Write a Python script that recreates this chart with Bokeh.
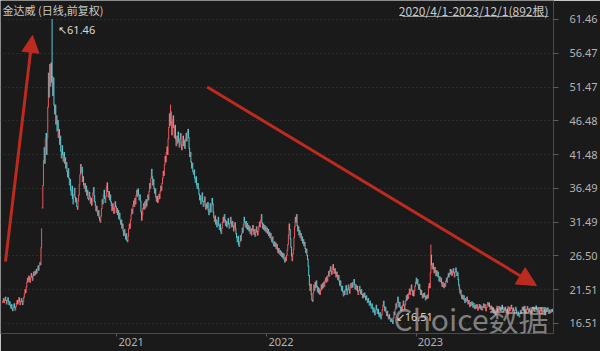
from bokeh.plotting import figure
from bokeh.models import (Range1d, FixedTicker, PrintfTickFormatter, Label,
                          Arrow, NormalHead, ColumnDataSource)
from bokeh.embed import file_html
from bokeh.resources import INLINE

# ---------------- data (daily closes) ----------------
closes = [
    19.8, 20.2, 19.6, 20.0, 20.4, 19.9, 19.4, 19.9, 20.3, 19.8, 19.3, 19.7, 19.2, 18.8, 19.3, 18.7, 18.4, 18.9, 19.4, 18.9,
    18.5, 19.0, 19.5, 19.9, 19.4, 19.8, 20.3, 19.8, 19.3, 19.8, 20.2, 19.7, 19.3, 19.8, 20.4, 20.9, 21.5, 21.1, 21.9, 22.6,
    23.2, 22.7, 23.5, 23.0, 22.6, 23.3, 23.9, 23.4, 22.9, 23.6, 24.1, 23.6, 24.2, 23.8, 24.5, 24.0, 24.6, 25.0, 24.4, 25.1,
    25.5, 25.2, 27.7, 30.5, 33.6, 36.9, 40.6, 42.5, 40.2, 43.8, 44.6, 41.5, 44.0, 48.5, 53.5, 50.0, 54.8, 51.6, 55.0, 52.2,
    53.0, 50.2, 52.8, 48.8, 47.5, 48.8, 46.0, 47.2, 45.0, 46.5, 44.0, 45.2, 43.0, 44.2, 42.0, 41.0, 42.8, 41.5, 40.5, 41.8,
    40.2, 41.0, 39.5, 40.3, 39.0, 38.2, 39.4, 38.0, 37.0, 37.8, 36.2, 35.5, 36.8, 35.0, 34.2, 35.6, 36.5, 35.2, 34.5, 35.0,
    33.8, 33.4, 34.6, 35.5, 37.0, 38.5, 40.0, 38.8, 39.6, 37.5, 38.2, 37.0, 36.5, 37.2, 36.0, 36.8, 35.5, 36.2, 35.0, 34.8,
    35.9, 35.2, 34.3, 35.0, 34.0, 34.6, 35.8, 36.6, 35.4, 34.5, 34.0, 33.2, 33.8, 33.0, 32.5, 33.2, 32.2, 31.8, 31.5, 32.4,
    33.5, 34.8, 34.2, 35.5, 36.2, 35.0, 34.4, 35.3, 36.8, 37.3, 36.0, 35.2, 36.0, 34.8, 35.5, 34.5, 34.0, 33.2, 34.2, 33.5,
    32.8, 33.6, 34.5, 33.8, 32.9, 33.5, 32.6, 33.2, 32.0, 32.8, 31.8, 31.2, 31.8, 30.6, 31.2, 30.2, 29.5, 30.4, 29.6, 29.0,
    29.8, 28.8, 28.6, 29.4, 30.5, 31.2, 30.6, 31.8, 32.6, 33.4, 32.8, 34.0, 34.6, 33.8, 35.0, 34.2, 35.4, 36.2, 35.3, 36.4,
    35.6, 34.8, 35.5, 34.6, 33.0, 31.8, 32.6, 33.5, 34.2, 33.4, 34.5, 33.6, 34.8, 33.9, 34.6, 35.5, 34.8, 36.0, 37.2, 36.5,
    38.0, 39.3, 38.2, 37.0, 37.8, 36.5, 35.8, 36.4, 35.2, 34.6, 35.3, 34.4, 34.8, 35.6, 35.0, 36.0, 36.8, 36.2, 37.2, 38.0,
    39.0, 38.4, 40.0, 41.2, 40.4, 41.8, 42.6, 41.5, 43.8, 45.5, 47.5, 45.8, 47.8, 46.2, 44.4, 46.6, 47.2, 45.5, 44.0, 45.8,
    43.8, 42.8, 44.2, 43.2, 44.8, 43.5, 42.6, 43.8, 44.6, 43.0, 42.2, 43.4, 44.2, 42.8, 43.6, 42.4, 43.8, 44.6, 43.5, 44.8,
    45.2, 44.0, 42.4, 41.2, 41.8, 40.4, 39.5, 40.2, 39.0, 38.6, 39.2, 38.0, 37.4, 38.2, 37.0, 36.5, 37.2, 36.4, 35.6, 34.8,
    35.4, 34.2, 35.0, 35.8, 34.6, 33.8, 34.5, 35.2, 34.0, 33.4, 34.2, 33.6, 34.4, 33.2, 32.6, 33.4, 34.2, 33.0, 34.0, 35.0,
    34.2, 33.0, 32.2, 31.6, 32.4, 31.2, 31.8, 30.8, 31.5, 32.2, 31.0, 30.4, 31.2, 30.2, 29.8, 30.6, 31.4, 32.2, 31.5, 32.6,
    31.8, 31.0, 31.6, 30.8, 31.4, 32.0, 31.2, 30.6, 31.3, 32.2, 31.5, 30.8, 31.6, 30.9, 30.2, 30.8, 31.4, 30.5, 29.8, 29.2,
    28.6, 29.4, 28.2, 27.9, 28.6, 29.5, 28.8, 29.8, 30.6, 30.0, 31.2, 32.2, 31.5, 30.8, 31.6, 30.6, 31.3, 30.4, 31.0, 30.2,
    30.8, 29.8, 30.5, 29.6, 30.2, 31.0, 30.3, 29.7, 30.4, 29.4, 30.0, 30.8, 30.1, 29.6, 30.2, 30.9, 31.5, 30.8, 31.8, 32.6,
    31.4, 30.6, 31.2, 30.4, 31.0, 30.2, 30.8, 30.0, 30.6, 29.8, 30.4, 29.5, 30.0, 29.2, 29.8, 29.0, 28.6, 29.3, 28.4, 28.0,
    28.6, 27.9, 28.4, 27.6, 28.2, 27.4, 27.0, 27.6, 26.8, 27.3, 26.6, 27.1, 26.4, 26.9, 26.2, 26.8, 26.0, 25.6, 26.3, 25.8,
    26.6, 27.4, 28.2, 29.6, 31.2, 30.4, 29.0, 27.8, 26.5, 25.8, 26.8, 27.5, 29.2, 30.8, 32.2, 31.5, 32.6, 31.0, 30.2, 30.8,
    29.6, 30.2, 29.2, 29.8, 28.8, 29.3, 28.4, 28.9, 28.0, 28.5, 27.6, 27.0, 27.5, 26.6, 26.0, 25.0, 23.6, 22.2, 21.4, 22.3,
    20.8, 20.0, 19.8, 21.0, 22.2, 21.4, 22.6, 21.8, 22.8, 22.0, 21.2, 21.8, 21.0, 21.6, 20.8, 21.4, 22.2, 21.6, 22.4, 21.8,
    22.6, 22.0, 22.8, 23.2, 22.6, 23.4, 22.8, 23.6, 24.2, 23.5, 24.4, 24.9, 24.2, 23.8, 24.6, 25.2, 24.5, 23.9, 24.6, 24.0,
    23.4, 24.1, 23.6, 23.0, 23.6, 22.8, 22.2, 22.8, 22.0, 21.4, 22.0, 21.2, 20.6, 21.3, 20.8, 21.5, 22.1, 21.4, 20.8, 21.6,
    22.2, 21.5, 21.0, 21.8, 22.4, 21.8, 22.5, 21.9, 22.6, 23.0, 22.3, 21.6, 22.2, 21.5, 22.0, 21.3, 20.8, 21.4, 22.0, 21.4,
    20.9, 21.5, 20.8, 20.3, 20.9, 20.4, 21.0, 20.5, 20.0, 20.6, 20.1, 19.6, 20.2, 19.7, 19.2, 19.8, 19.3, 18.8, 19.4, 18.7,
    18.2, 18.8, 18.3, 17.8, 18.5, 19.2, 18.6, 18.0, 18.6, 17.9, 17.5, 18.1, 17.6, 17.2, 17.8, 18.5, 19.2, 19.8, 19.0, 18.4,
    18.9, 18.2, 17.7, 18.3, 17.6, 17.2, 17.8, 17.3, 17.0, 16.8, 17.2, 16.9, 16.51, 17.4, 18.2, 17.8, 18.6, 19.4, 18.8, 19.6,
    20.4, 19.7, 19.0, 19.6, 18.9, 18.4, 19.0, 18.5, 19.2, 19.8, 19.2, 18.6, 19.3, 19.9, 20.6, 20.0, 20.8, 20.2, 21.0, 21.6,
    20.8, 21.5, 22.2, 21.4, 20.7, 21.3, 20.6, 21.4, 22.0, 22.6, 23.2, 22.4, 23.0, 22.2, 21.6, 22.3, 21.5, 20.8, 21.4, 20.8,
    20.3, 20.9, 20.4, 21.0, 20.5, 20.0, 20.6, 20.2, 20.7, 20.3, 22.0, 22.4, 21.8, 24.0, 26.6, 25.2, 24.6, 25.4, 24.6, 24.0,
    24.8, 24.2, 23.6, 24.3, 23.5, 24.1, 23.4, 22.8, 23.4, 22.7, 23.2, 22.5, 22.0, 22.6, 22.0, 21.8, 22.4, 22.0, 22.8, 23.2,
    22.6, 23.4, 23.9, 23.4, 24.0, 24.5, 23.8, 24.4, 23.6, 24.2, 24.6, 24.0, 23.4, 24.1, 24.7, 24.2, 23.6, 24.0, 23.0, 22.2,
    21.6, 21.0, 21.4, 20.6, 20.2, 20.7, 20.1, 20.6, 20.0, 19.6, 20.2, 19.8, 20.4, 19.9, 19.4, 19.9, 19.5, 19.0, 19.6, 19.2,
    19.7, 19.3, 18.9, 19.5, 19.1, 18.7, 19.2, 18.8, 19.3, 18.9, 18.5, 18.9, 19.3, 18.8, 19.2, 18.6, 19.0, 18.5, 18.9, 19.4,
    18.9, 19.3, 18.8, 18.4, 18.9, 19.3, 19.6, 19.1, 19.5, 19.0, 18.6, 19.1, 18.7, 18.3, 18.8, 18.4, 18.0, 18.5, 18.1, 17.8,
    18.3, 18.7, 18.2, 18.6, 19.0, 18.5, 18.9, 18.4, 18.8, 19.2, 18.7, 18.3, 18.8, 18.4, 18.9, 18.5, 18.1, 18.6, 18.2, 17.8,
    18.3, 18.8, 18.4, 18.9, 19.2, 18.7, 18.3, 18.8, 18.4, 18.0, 18.5, 18.9, 18.5, 18.1, 17.7, 18.2, 17.8, 17.5, 18.0, 18.4,
    18.0, 18.5, 18.9, 18.5, 18.9, 18.4, 18.0, 18.5, 18.1, 18.6, 19.0, 18.6, 18.2, 18.7, 18.3, 17.9, 18.4, 18.0, 18.5, 18.9,
    18.4, 18.8, 18.3, 18.7, 19.1, 18.6, 18.2, 18.6, 18.1, 18.5, 18.0, 18.4, 18.8, 18.4, 18.0, 18.5, 18.2, 18.6, 18.2, 17.8,
    18.3, 18.7, 18.3, 18.8, 18.4, 18.0, 18.5, 18.1, 18.5, 18.2, 18.6, 18.3,
]
first_open = 19.6
open_overrides = {64: 33.6, 80: 55.4}          # gap opens (one-price limit-up, peak day)
high_overrides = {80: 61.46, 272: 48.8, 694: 28.1}  # visible long upper wicks

year_ticks = [185, 428, 670]
year_labels = ["2021", "2022", "2023"]
y_ticks = [16.51, 21.51, 26.50, 31.49, 36.49, 41.48, 46.48, 51.47, 56.47, 61.46]

title_text = "金达威 (日线,前复权)"
range_text = "2020/4/1-2023/12/1(892根)"

# ---------------- derived OHLC ----------------
n = len(closes)
opens = [first_open] + closes[:-1]
for k, v in open_overrides.items():
    opens[k] = v
highs = [max(o, c) for o, c in zip(opens, closes)]
lows = [min(o, c) for o, c in zip(opens, closes)]
for k, v in high_overrides.items():
    highs[k] = v

UP = "#ec5860"
DOWN = "#55cdd4"
colors = [UP if c >= o else DOWN for o, c in zip(opens, closes)]

src = ColumnDataSource(dict(x=list(range(n)), o=opens, h=highs, l=lows, c=closes, color=colors))

BG = "#1a1a1a"
ARROW = "#bd2a1f"
TXT = "#c8c8c8"

p = figure(width=600, height=351, x_range=Range1d(-3.6, 892.7), y_range=Range1d(15.03, 64.26),
           y_axis_location="right", toolbar_location=None, output_backend="svg",
           background_fill_color=BG, border_fill_color=BG, outline_line_color=None,
           min_border_left=0, min_border_top=0, min_border_right=47, min_border_bottom=14)

p.segment(x0="x", y0="l", x1="x", y1="h", color="color", line_width=1, line_cap="square", source=src)

# axes
ya = p.yaxis[0]
ya.ticker = FixedTicker(ticks=y_ticks)
ya.formatter = PrintfTickFormatter(format="%.2f")
ya.major_label_text_color = "#b4b4b4"
ya.major_label_text_font = "Noto Sans"
ya.major_label_text_font_size = "11px"
ya.axis_line_color = "#4a4a4a"
ya.major_tick_line_color = "#5a5a5a"
ya.major_tick_out = 5
ya.major_tick_in = 0
ya.minor_tick_out = 0
ya.minor_tick_in = 0
ya.major_label_standoff = 11

xa = p.xaxis[0]
xa.ticker = FixedTicker(ticks=year_ticks)
xa.major_label_overrides = {t: "\u00a0" * 10 + lab for t, lab in zip(year_ticks, year_labels)}
xa.major_label_text_color = "#b4b4b4"
xa.major_label_text_font = "Noto Sans"
xa.major_label_text_font_size = "11px"
xa.axis_line_color = "#4a4a4a"
xa.major_tick_line_color = "#5a5a5a"
xa.major_tick_out = 3
xa.major_tick_in = 0
xa.minor_tick_out = 0
xa.minor_tick_in = 0
xa.major_label_standoff = -3

p.xgrid.visible = False
p.ygrid.grid_line_color = "#3c3c3c"
p.ygrid.grid_line_dash = "1 3"

# texts
p.add_layout(Label(x=-0.3, y=62.79, text=title_text, text_baseline="middle", text_align="left",
                   text_font="Noto Sans CJK SC", text_font_size="11px", text_color=TXT))
p.add_layout(Label(x=884.6, y=62.79, text=range_text, text_baseline="middle", text_align="right",
                   text_font="Noto Sans CJK SC", text_font_size="12px", text_color=TXT))
p.segment(x0=[648], y0=[61.90], x1=[884.6], y1=[61.90], line_color="#9a9a9a", line_width=1)

imax = max(range(n), key=lambda i: highs[i])
imin = min(range(n), key=lambda i: lows[i])
p.add_layout(Label(x=imax, y=highs[imax], x_offset=6, y_offset=-10, text="↖%.2f" % highs[imax],
                   text_baseline="middle", text_font="Noto Sans", text_font_size="11px",
                   text_color="#d8d8d8"))
p.add_layout(Label(x=imin, y=lows[imin], x_offset=3, y_offset=7, text="↙%.2f" % lows[imin],
                   text_baseline="middle", text_font="Noto Sans", text_font_size="11px",
                   text_color="#d8d8d8"))

# watermark
p.add_layout(Label(x=633.4, y=17.39, text="Choice数据", text_baseline="middle", text_align="left",
                   text_font="Noto Sans CJK SC", text_font_size="30px",
                   text_color="#c4c4c4", text_alpha=0.6))

# hand-drawn red arrows
p.add_layout(Arrow(end=NormalHead(size=17, fill_color=ARROW, line_color=ARROW),
                   x_start=4.5, y_start=25.65, x_end=48.3, y_end=59.1,
                   line_color=ARROW, line_width=3))
p.add_layout(Arrow(end=NormalHead(size=19, fill_color=ARROW, line_color=ARROW),
                   x_start=331.4, y_start=51.48, x_end=865.2, y_end=22.11,
                   line_color=ARROW, line_width=3))

open("out.html", "w", encoding="utf-8").write(file_html(p, INLINE))
